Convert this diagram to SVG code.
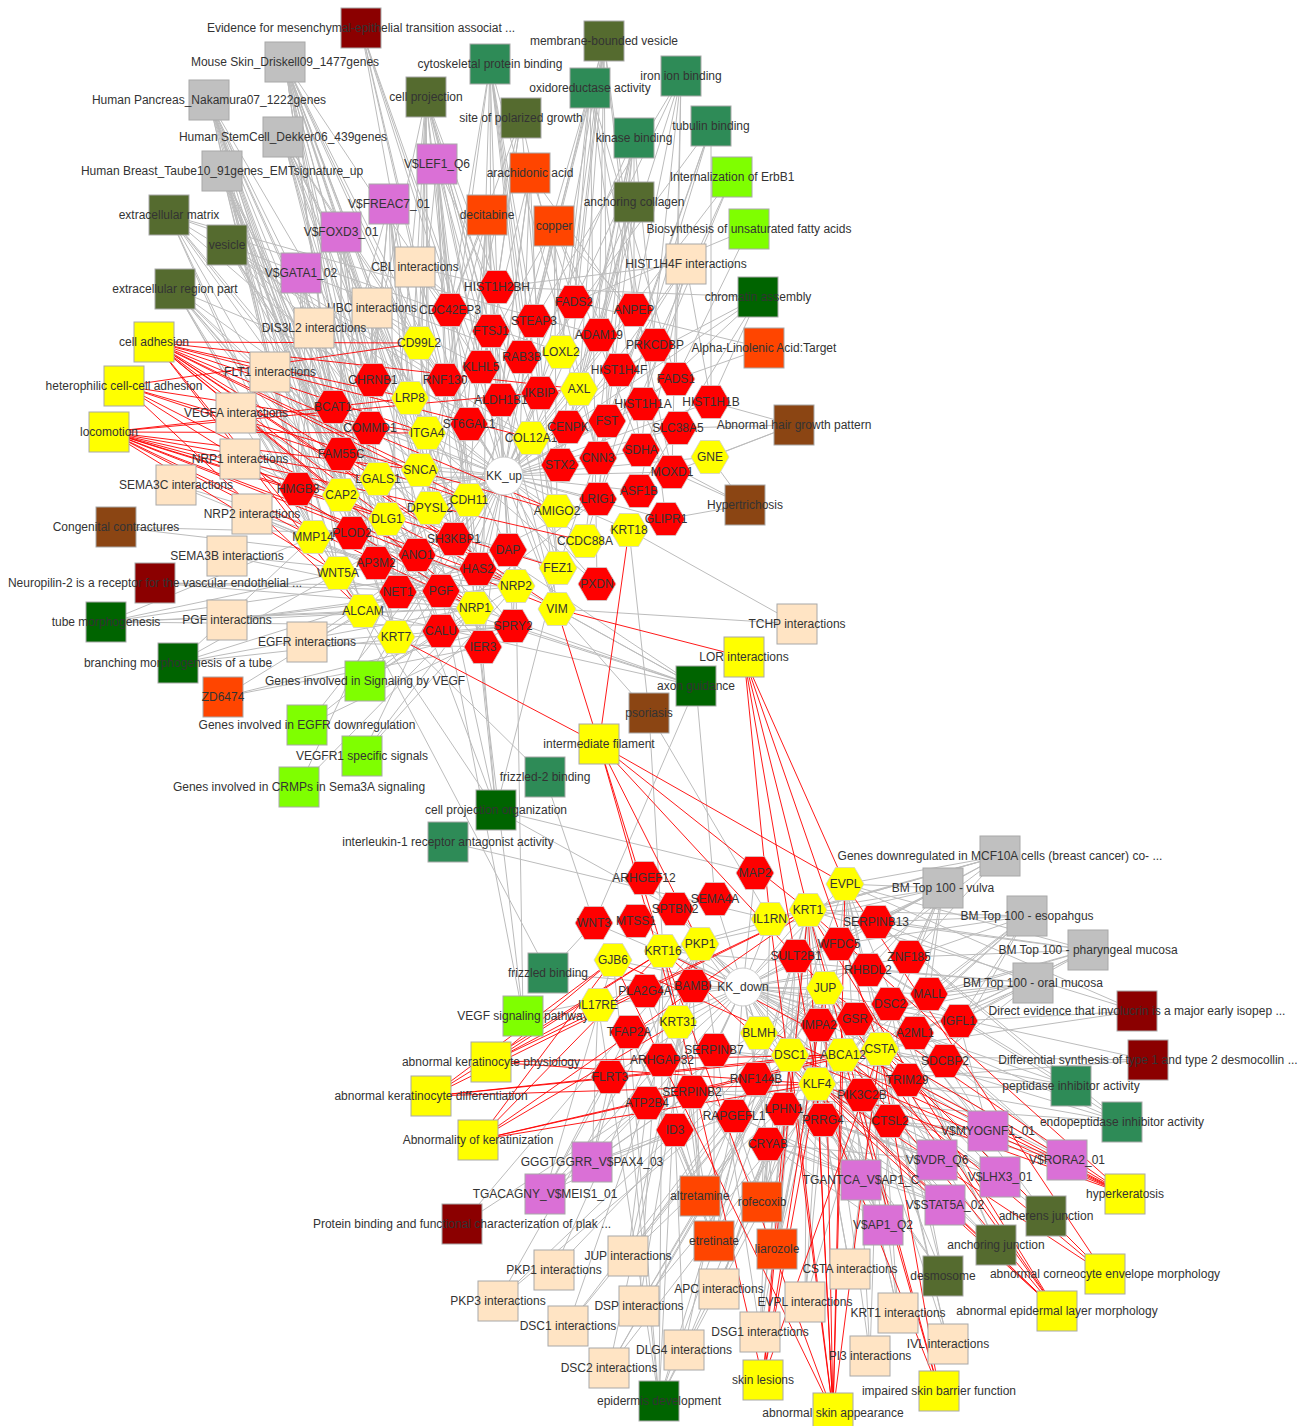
<svg xmlns="http://www.w3.org/2000/svg" xmlns:xlink="http://www.w3.org/1999/xlink" width="1312" height="1426" viewBox="0 0 1312 1426">
<style>
.g path{stroke:#bcbcbc;stroke-width:1;fill:none}
.r path{stroke:#ff0000;stroke-width:1;fill:none;stroke-opacity:0.9}
.s{stroke:#a8a8a8;stroke-width:1}
.h{stroke:#cfcfcf;stroke-width:0.8}
.drd{fill:#8b0000}.gry{fill:#c0c0c0}.olv{fill:#556b2f}.sea{fill:#2e8b57}.orc{fill:#da70d6}.org{fill:#ff4500}.chr{fill:#7fff00}.dgr{fill:#006400}.bis{fill:#ffe4c4}.yel{fill:#ffff00}.brn{fill:#8b4513}.red{fill:#ff0000}
text{font-family:"Liberation Sans",Arial,sans-serif;font-size:12px;fill:#333;text-anchor:middle}
</style>
<defs>
<rect id="sq" x="-20" y="-20" width="40" height="40"/>
<polygon id="hx" points="-19,0 -9.5,-16.5 9.5,-16.5 19,0 9.5,16.5 -9.5,16.5"/>
</defs>
<rect width="1312" height="1426" fill="#ffffff"/>
<g id="edges">
<g class="g">
<path d="M504 476L419 343M504 476L450 310M504 476L497 287M504 476L491 331M504 476L534 321M504 476L574 302M504 476L634 310M504 476L599 335M504 476L655 345M504 476L522 357M504 476L561 352M504 476L481 367M504 476L445 380M504 476L373 380M504 476L410 398M504 476L619 370M504 476L676 379M504 476L643 404M504 476L711 402M504 476L540 393M504 476L579 389M504 476L501 400M504 476L333 407M504 476L370 428M504 476L427 433M504 476L469 424M504 476L531 438M504 476L568 427M504 476L607 421M504 476L678 428M504 476L641 450M504 476L710 457M504 476L598 458M504 476L672 472M504 476L560 465M504 476L341 454M504 476L378 479M504 476L420 470M504 476L298 489M504 476L341 495M504 476L469 500M504 476L557 511M504 476L598 499M504 476L639 491M504 476L666 519M504 476L629 530M504 476L387 519M504 476L430 508M504 476L585 541M504 476L313 537M504 476L352 533M504 476L454 539M504 476L508 550M504 476L558 568M504 476L376 563M504 476L417 555M504 476L478 569M504 476L338 573M504 476L398 592M504 476L441 591M504 476L516 586M504 476L597 584M504 476L475 608M504 476L557 609M504 476L363 611M504 476L441 631M504 476L513 626M504 476L396 637M504 476L483 647"/>
<path d="M361 28L450 310M361 28L481 367M361 28L469 500M361 28L454 539M361 28L557 609M361 28L445 380"/>
<path d="M285 62L450 310M285 62L419 343M285 62L445 380M285 62L410 398M285 62L427 433M285 62L370 428M285 62L333 407M285 62L341 454M285 62L420 470M285 62L430 508M285 62L376 563M285 62L352 533M285 62L478 569M285 62L398 592M285 62L396 637M285 62L441 631M285 62L483 647M285 62L508 550M285 62L373 380"/>
<path d="M209 100L373 380M209 100L333 407M209 100L341 454M209 100L298 489M209 100L313 537M209 100L352 533M209 100L378 479M209 100L338 573M209 100L363 611M209 100L417 555M209 100L341 495M209 100L376 563M209 100L396 637M209 100L370 428"/>
<path d="M283 137L370 428M283 137L427 433M283 137L410 398M283 137L373 380M283 137L420 470M283 137L387 519M283 137L398 592M283 137L441 591M283 137L469 500M283 137L469 424M283 137L445 380"/>
<path d="M222 171L333 407M222 171L341 454M222 171L298 489M222 171L341 495M222 171L313 537M222 171L338 573M222 171L352 533M222 171L363 611M222 171L378 479M222 171L387 519M222 171L376 563M222 171L396 637"/>
<path d="M169 215L531 438M169 215L561 352M169 215L313 537M169 215L352 533M169 215L341 454M169 215L597 584M169 215L513 626M169 215L378 479M169 215L298 489M169 215L599 335"/>
<path d="M227 245L373 380M227 245L333 407M227 245L445 380M227 245L469 424M227 245L378 479M227 245L417 555M227 245L441 631M227 245L522 357M227 245L420 470"/>
<path d="M175 289L378 479M175 289L298 489M175 289L341 454M175 289L441 591M175 289L531 438M175 289L469 500M175 289L483 647M175 289L363 611M175 289L341 495M175 289L338 573"/>
<path d="M426 97L450 310M426 97L497 287M426 97L491 331M426 97L481 367M426 97L410 398M426 97L427 433M426 97L419 343M426 97L420 470M426 97L387 519M426 97L430 508M426 97L475 608M426 97L557 609M426 97L558 568M426 97L557 511M426 97L341 495"/>
<path d="M437 164L522 357M437 164L481 367M437 164L445 380M437 164L501 400M437 164L469 424M437 164L469 500M437 164L478 569M437 164L475 608M437 164L454 539M437 164L419 343"/>
<path d="M389 204L373 380M389 204L333 407M389 204L370 428M389 204L410 398M389 204L420 470M389 204L430 508M389 204L417 555M389 204L398 592M389 204L419 343"/>
<path d="M341 232L341 454M341 232L341 495M341 232L378 479M341 232L387 519M341 232L376 563M341 232L441 591M341 232L373 380"/>
<path d="M301 273L298 489M301 273L313 537M301 273L338 573M301 273L352 533M301 273L396 637M301 273L441 631M301 273L333 407"/>
<path d="M415 267L450 310M415 267L491 331M415 267L481 367M415 267L469 424M415 267L430 508M415 267L497 287"/>
<path d="M372 308L373 380M372 308L445 380M372 308L370 428M372 308L481 367M372 308L454 539M372 308L478 569M372 308L419 343"/>
<path d="M314 328L333 407M314 328L370 428M314 328L341 454M314 328L298 489M314 328L373 380"/>
<path d="M490 64L450 310M490 64L522 357M490 64L481 367M490 64L540 393M490 64L598 458M490 64L430 508M490 64L558 568M490 64L557 609M490 64L497 287M490 64L491 331M490 64L534 321"/>
<path d="M604 41L574 302M604 41L599 335M604 41L561 352M604 41L534 321M604 41L522 357M604 41L540 393M604 41L579 389M604 41L607 421M604 41L560 465M604 41L666 519M604 41L634 310"/>
<path d="M590 88L574 302M590 88L676 379M590 88L534 321M590 88L501 400M590 88L641 450M590 88L672 472M590 88L561 352M590 88L597 584"/>
<path d="M681 76L574 302M681 76L676 379M681 76L534 321M681 76L641 450M681 76L672 472M681 76L634 310M681 76L599 335"/>
<path d="M521 118L450 310M521 118L491 331M521 118L497 287M521 118L598 458M521 118L558 568M521 118L430 508"/>
<path d="M711 126L585 541M711 126L558 568M711 126L430 508M711 126L711 402M711 126L607 421"/>
<path d="M634 138L655 345M634 138L599 335M634 138L579 389M634 138L634 310M634 138L598 499M634 138L454 539M634 138L585 541M634 138L568 427"/>
<path d="M530 173L574 302M530 173L676 379M530 173L501 400M530 173L469 424M530 173L478 569M530 173L513 626M530 173L540 393"/>
<path d="M487 215L450 310M487 215L497 287M487 215L469 500M487 215L454 539M487 215L508 550M487 215L483 647M487 215L398 592M487 215L501 400"/>
<path d="M554 226L534 321M554 226L561 352M554 226L672 472M554 226L634 310M554 226L420 470M554 226L557 511M554 226L641 450"/>
<path d="M634 202L531 438M634 202L599 335M634 202L560 465M634 202L598 499M634 202L568 427"/>
<path d="M732 177L655 345M732 177L598 499M732 177L454 539"/>
<path d="M749 229L574 302M749 229L676 379"/>
<path d="M686 264L619 370M686 264L643 404M686 264L711 402M686 264L497 287M686 264L639 491M686 264L568 427"/>
<path d="M758 297L619 370M758 297L643 404M758 297L711 402M758 297L497 287M758 297L639 491M758 297L568 427"/>
<path d="M764 348L574 302M764 348L676 379"/>
<path d="M794 425L710 457M794 425L678 428M794 425L711 402M794 425L672 472"/>
<path d="M745 505L666 519M745 505L710 457M745 505L672 472M745 505L641 450"/>
<path d="M270 372L475 608M270 372L516 586M270 372L441 591M270 372L454 539"/>
<path d="M236 413L475 608M236 413L516 586M236 413L513 626M236 413L363 611M236 413L441 591"/>
<path d="M240 459L475 608M240 459L516 586M240 459L441 591M240 459L558 568"/>
<path d="M176 485L475 608M176 485L516 586"/>
<path d="M252 514L475 608M252 514L516 586M252 514L441 591"/>
<path d="M116 527L352 533M116 527L478 569"/>
<path d="M227 556L475 608M227 556L516 586"/>
<path d="M155 583L516 586M155 583L475 608M155 583L441 591"/>
<path d="M106 622L338 573M106 622L475 608M106 622L513 626M106 622L478 569M106 622L363 611M106 622L313 537"/>
<path d="M227 620L441 591M227 620L475 608M227 620L516 586"/>
<path d="M307 642L454 539M307 642L513 626M307 642L598 499M307 642L483 647"/>
<path d="M178 663L475 608M178 663L338 573M178 663L513 626M178 663L478 569M178 663L313 537"/>
<path d="M223 697L513 626M223 697L483 647M223 697L363 611"/>
<path d="M365 681L475 608M365 681L516 586M365 681L441 591M365 681L454 539"/>
<path d="M307 725L454 539M307 725L513 626M307 725L598 499"/>
<path d="M362 756L441 591M362 756L475 608M362 756L516 586"/>
<path d="M299 787L430 508M299 787L475 608"/>
<path d="M696 686L475 608M696 686L516 586M696 686L430 508M696 686L363 611M696 686L557 609M696 686L594 923M696 686L715 899M696 686L398 592M696 686L513 626"/>
<path d="M649 713L557 609M649 713L663 951M649 713L770 919M649 713L629 530"/>
<path d="M797 624L629 530M797 624L557 609"/>
<path d="M545 777L338 573M545 777L594 923"/>
<path d="M496 810L475 608M496 810L430 508M496 810L558 568M496 810L469 500M496 810L675 909M496 810L755 873M496 810L363 611M496 810L387 519"/>
<path d="M448 842L770 919"/>
<path d="M548 973L594 923M548 973L338 573M548 973L693 986"/>
<path d="M523 1016L645 991M523 1016L475 608M523 1016L516 586M523 1016L441 591"/>
<path d="M743 987L755 873M743 987L644 878M743 987L715 899M743 987L675 909M743 987L845 884M743 987L808 910M743 987L770 919M743 987L876 922M743 987L594 923M743 987L636 921M743 987L700 944M743 987L663 951M743 987L613 960M743 987L796 956M743 987L839 944M743 987L909 957M743 987L868 970M743 987L929 994M743 987L693 986M743 987L645 991M743 987L598 1005M743 987L825 988M743 987L890 1004M743 987L959 1021M743 987L678 1022M743 987L629 1032M743 987L759 1033M743 987L819 1025M743 987L855 1019M743 987L915 1033M743 987L880 1049M743 987L714 1050M743 987L662 1060M743 987L790 1055M743 987L843 1055M743 987L945 1061M743 987L610 1077M743 987L756 1079M743 987L817 1084M743 987L862 1095M743 987L907 1080M743 987L692 1092M743 987L647 1103M743 987L734 1116M743 987L784 1109M743 987L823 1120M743 987L890 1121M743 987L675 1130M743 987L768 1144"/>
<path d="M1000 856L808 910M1000 856L845 884M1000 856L876 922M1000 856L909 957M1000 856L839 944M1000 856L825 988M1000 856L770 919M1000 856L663 951"/>
<path d="M943 888L808 910M943 888L845 884M943 888L876 922M943 888L909 957M943 888L868 970M943 888L929 994M943 888L890 1004M943 888L915 1033M943 888L880 1049M943 888L663 951M943 888L796 956"/>
<path d="M1027 916L929 994M1027 916L959 1021M1027 916L909 957M1027 916L876 922M1027 916L880 1049M1027 916L843 1055M1027 916L945 1061M1027 916L768 1144M1027 916L808 910M1027 916L839 944"/>
<path d="M1088 950L909 957M1088 950L929 994M1088 950L876 922M1088 950L959 1021M1088 950L880 1049M1088 950L915 1033M1088 950L808 910M1088 950L845 884M1088 950L855 1019"/>
<path d="M1033 983L929 994M1033 983L959 1021M1033 983L915 1033M1033 983L868 970M1033 983L890 1004M1033 983L855 1019M1033 983L907 1080M1033 983L876 922M1033 983L663 951"/>
<path d="M1137 1011L845 884M1137 1011L880 1049M1137 1011L808 910M1137 1011L959 1021"/>
<path d="M1148 1060L790 1055M1148 1060L890 1004M1148 1060L817 1084"/>
<path d="M1071 1086L876 922M1071 1086L714 1050M1071 1086L692 1092M1071 1086L880 1049M1071 1086L915 1033M1071 1086L839 944"/>
<path d="M1122 1122L876 922M1122 1122L714 1050M1122 1122L692 1092M1122 1122L880 1049M1122 1122L915 1033M1122 1122L839 944"/>
<path d="M988 1131L808 910M988 1131L825 988M988 1131L907 1080M988 1131L945 1061M988 1131L959 1021M988 1131L890 1121M988 1131L823 1120"/>
<path d="M1067 1160L880 1049M1067 1160L907 1080M1067 1160L862 1095M1067 1160L890 1121M1067 1160L915 1033M1067 1160L890 1004"/>
<path d="M937 1160L817 1084M937 1160L823 1120M937 1160L890 1121M937 1160L862 1095M937 1160L907 1080M937 1160L768 1144M937 1160L784 1109"/>
<path d="M1000 1177L862 1095M1000 1177L907 1080M1000 1177L890 1121M1000 1177L784 1109M1000 1177L817 1084"/>
<path d="M945 1205L768 1144M945 1205L823 1120M945 1205L817 1084M945 1205L784 1109M945 1205L890 1121M945 1205L734 1116"/>
<path d="M861 1180L817 1084M861 1180L823 1120M861 1180L768 1144M861 1180L784 1109M861 1180L756 1079M861 1180L692 1092M861 1180L790 1055M861 1180L819 1025"/>
<path d="M883 1225L768 1144M883 1225L784 1109M883 1225L823 1120M883 1225L817 1084M883 1225L890 1121M883 1225L862 1095"/>
<path d="M592 1162L675 1130M592 1162L647 1103M592 1162L610 1077M592 1162L629 1032M592 1162L692 1092M592 1162L734 1116M592 1162L598 1005"/>
<path d="M545 1194L675 1130M545 1194L647 1103M545 1194L610 1077M545 1194L662 1060M545 1194L629 1032M545 1194L613 960M545 1194L692 1092"/>
<path d="M462 1224L700 944M462 1224L825 988"/>
<path d="M700 1196L675 1130M700 1196L692 1092M700 1196L734 1116M700 1196L693 986M700 1196L645 991M700 1196L678 1022M700 1196L629 1032"/>
<path d="M762 1202L768 1144M762 1202L734 1116M762 1202L784 1109M762 1202L645 991M762 1202L770 919M762 1202L796 956M762 1202L819 1025"/>
<path d="M714 1241L663 951M714 1241L808 910M714 1241L629 1032M714 1241L675 1130M714 1241L714 1050M714 1241L759 1033"/>
<path d="M777 1249L808 910M777 1249L817 1084M777 1249L768 1144M777 1249L819 1025M777 1249L825 988M777 1249L796 956"/>
<path d="M628 1256L825 988M628 1256L700 944M628 1256L790 1055M628 1256L890 1004M628 1256L647 1103"/>
<path d="M554 1270L700 944M554 1270L825 988"/>
<path d="M498 1301L825 988M498 1301L790 1055M498 1301L700 944"/>
<path d="M719 1289L825 988M719 1289L784 1109M719 1289L768 1144"/>
<path d="M850 1269L880 1049M850 1269L823 1120M850 1269L817 1084"/>
<path d="M805 1302L845 884M805 1302L808 910M805 1302L825 988M805 1302L880 1049"/>
<path d="M639 1306L825 988M639 1306L700 944M639 1306L790 1055M639 1306L890 1004M639 1306L663 951"/>
<path d="M568 1326L790 1055M568 1326L825 988M568 1326L700 944"/>
<path d="M760 1332L790 1055M760 1332L825 988M760 1332L700 944M760 1332L808 910M760 1332L768 1144"/>
<path d="M898 1313L808 910M898 1313L845 884M898 1313L880 1049M898 1313L825 988"/>
<path d="M684 1350L784 1109M684 1350L734 1116M684 1350L675 1130"/>
<path d="M870 1356L808 910M870 1356L880 1049M870 1356L845 884"/>
<path d="M948 1344L845 884M948 1344L880 1049M948 1344L808 910"/>
<path d="M609 1368L890 1004M609 1368L825 988M609 1368L790 1055M609 1368L700 944"/>
<path d="M1046 1216L825 988M1046 1216L890 1004M1046 1216L700 944"/>
<path d="M996 1245L825 988M996 1245L790 1055M996 1245L890 1004M996 1245L700 944M996 1245L845 884"/>
<path d="M943 1276L825 988M943 1276L790 1055M943 1276L890 1004M943 1276L700 944M943 1276L845 884"/>
<path d="M659 1401L663 951M659 1401L808 910M659 1401L845 884M659 1401L817 1084M659 1401L613 960M659 1401L843 1055M659 1401L629 1032M659 1401L598 1005M659 1401L678 1022"/>
</g>
<g class="r">
<path d="M154 342L419 343M154 342L410 398M154 342L427 433M154 342L469 500M154 342L557 511M154 342L341 495M154 342L387 519M154 342L378 479M154 342L475 608M154 342L363 611M154 342L531 438M154 342L557 609M154 342L313 537M154 342L420 470M154 342L579 389M154 342L516 586"/>
<path d="M124 386L419 343M124 386L557 511M124 386L469 500M124 386L363 611M124 386L475 608M124 386L516 586M124 386L427 433"/>
<path d="M109 432L410 398M109 432L427 433M109 432L420 470M109 432L341 495M109 432L313 537M109 432L338 573M109 432L475 608M109 432L516 586M109 432L558 568M109 432L387 519M109 432L579 389M109 432L378 479M109 432L585 541M109 432L557 609"/>
<path d="M599 744L629 530M599 744L557 609M599 744L396 637M599 744L663 951M599 744L678 1022M599 744L808 910M599 744L700 944M599 744L845 884M599 744L825 988"/>
<path d="M744 657L557 609M744 657L808 910M744 657L845 884M744 657L880 1049M744 657L817 1084M744 657L770 919"/>
<path d="M491 1062L663 951M491 1062L613 960M491 1062L808 910M491 1062L817 1084M491 1062L843 1055M491 1062L598 1005"/>
<path d="M431 1096L808 910M431 1096L817 1084M431 1096L663 951M431 1096L843 1055M431 1096L880 1049M431 1096L613 960"/>
<path d="M478 1140L663 951M478 1140L808 910M478 1140L613 960M478 1140L843 1055M478 1140L817 1084M478 1140L880 1049M478 1140L678 1022"/>
<path d="M763 1380L808 910M763 1380L817 1084M763 1380L790 1055M763 1380L825 988M763 1380L663 951M763 1380L880 1049"/>
<path d="M833 1413L808 910M833 1413L817 1084M833 1413L845 884M833 1413L880 1049M833 1413L843 1055M833 1413L825 988M833 1413L790 1055M833 1413L663 951M833 1413L613 960M833 1413L770 919"/>
<path d="M939 1391L817 1084M939 1391L843 1055M939 1391L880 1049M939 1391L808 910"/>
<path d="M1057 1311L808 910M1057 1311L817 1084M1057 1311L843 1055M1057 1311L825 988M1057 1311L880 1049M1057 1311L790 1055M1057 1311L663 951"/>
<path d="M1105 1274L880 1049M1105 1274L845 884M1105 1274L817 1084M1105 1274L843 1055"/>
<path d="M1125 1194L808 910M1125 1194L663 951M1125 1194L613 960M1125 1194L843 1055M1125 1194L880 1049M1125 1194L825 988M1125 1194L790 1055M1125 1194L817 1084"/>
</g>
</g>
<g id="nodes">
<g id="evidence-met"><use href="#sq" x="361" y="28" class="s drd"/><text x="361" y="32">Evidence for mesenchymal-epithelial transition associat ...</text></g>
<g id="mouse-skin"><use href="#sq" x="285" y="62" class="s gry"/><text x="285" y="66">Mouse Skin_Driskell09_1477genes</text></g>
<g id="human-pancreas"><use href="#sq" x="209" y="100" class="s gry"/><text x="209" y="104">Human Pancreas_Nakamura07_1222genes</text></g>
<g id="human-stemcell"><use href="#sq" x="283" y="137" class="s gry"/><text x="283" y="141">Human StemCell_Dekker06_439genes</text></g>
<g id="human-breast"><use href="#sq" x="222" y="171" class="s gry"/><text x="222" y="175">Human Breast_Taube10_91genes_EMTsignature_up</text></g>
<g id="ecm"><use href="#sq" x="169" y="215" class="s olv"/><text x="169" y="219">extracellular matrix</text></g>
<g id="vesicle"><use href="#sq" x="227" y="245" class="s olv"/><text x="227" y="249">vesicle</text></g>
<g id="erp"><use href="#sq" x="175" y="289" class="s olv"/><text x="175" y="293">extracellular region part</text></g>
<g id="cell-projection"><use href="#sq" x="426" y="97" class="s olv"/><text x="426" y="101">cell projection</text></g>
<g id="mbv"><use href="#sq" x="604" y="41" class="s olv"/><text x="604" y="45">membrane-bounded vesicle</text></g>
<g id="cpb"><use href="#sq" x="490" y="64" class="s sea"/><text x="490" y="68">cytoskeletal protein binding</text></g>
<g id="oxido"><use href="#sq" x="590" y="88" class="s sea"/><text x="590" y="92">oxidoreductase activity</text></g>
<g id="iron"><use href="#sq" x="681" y="76" class="s sea"/><text x="681" y="80">iron ion binding</text></g>
<g id="spg"><use href="#sq" x="521" y="118" class="s olv"/><text x="521" y="122">site of polarized growth</text></g>
<g id="tubulin"><use href="#sq" x="711" y="126" class="s sea"/><text x="711" y="130">tubulin binding</text></g>
<g id="kinase"><use href="#sq" x="634" y="138" class="s sea"/><text x="634" y="142">kinase binding</text></g>
<g id="lef1"><use href="#sq" x="437" y="164" class="s orc"/><text x="437" y="168">V$LEF1_Q6</text></g>
<g id="arach"><use href="#sq" x="530" y="173" class="s org"/><text x="530" y="177">arachidonic acid</text></g>
<g id="erbb1"><use href="#sq" x="732" y="177" class="s chr"/><text x="732" y="181">Internalization of ErbB1</text></g>
<g id="freac7"><use href="#sq" x="389" y="204" class="s orc"/><text x="389" y="208">V$FREAC7_01</text></g>
<g id="anch-coll"><use href="#sq" x="634" y="202" class="s olv"/><text x="634" y="206">anchoring collagen</text></g>
<g id="decitabine"><use href="#sq" x="487" y="215" class="s org"/><text x="487" y="219">decitabine</text></g>
<g id="copper"><use href="#sq" x="554" y="226" class="s org"/><text x="554" y="230">copper</text></g>
<g id="biosyn"><use href="#sq" x="749" y="229" class="s chr"/><text x="749" y="233">Biosynthesis of unsaturated fatty acids</text></g>
<g id="foxd3"><use href="#sq" x="341" y="232" class="s orc"/><text x="341" y="236">V$FOXD3_01</text></g>
<g id="hist1h4f-int"><use href="#sq" x="686" y="264" class="s bis"/><text x="686" y="268">HIST1H4F interactions</text></g>
<g id="cbl"><use href="#sq" x="415" y="267" class="s bis"/><text x="415" y="271">CBL interactions</text></g>
<g id="gata1"><use href="#sq" x="301" y="273" class="s orc"/><text x="301" y="277">V$GATA1_02</text></g>
<g id="chromatin"><use href="#sq" x="758" y="297" class="s dgr"/><text x="758" y="301">chromatin assembly</text></g>
<g id="ubc"><use href="#sq" x="372" y="308" class="s bis"/><text x="372" y="312">UBC interactions</text></g>
<g id="dis3l2"><use href="#sq" x="314" y="328" class="s bis"/><text x="314" y="332">DIS3L2 interactions</text></g>
<g id="cell-adhesion"><use href="#sq" x="154" y="342" class="s yel"/><text x="154" y="346">cell adhesion</text></g>
<g id="alpha-lin"><use href="#sq" x="764" y="348" class="s org"/><text x="764" y="352">Alpha-Linolenic Acid:Target</text></g>
<g id="flt1"><use href="#sq" x="270" y="372" class="s bis"/><text x="270" y="376">FLT1 interactions</text></g>
<g id="heterophilic"><use href="#sq" x="124" y="386" class="s yel"/><text x="124" y="390">heterophilic cell-cell adhesion</text></g>
<g id="vegfa"><use href="#sq" x="236" y="413" class="s bis"/><text x="236" y="417">VEGFA interactions</text></g>
<g id="hair"><use href="#sq" x="794" y="425" class="s brn"/><text x="794" y="429">Abnormal hair growth pattern</text></g>
<g id="locomotion"><use href="#sq" x="109" y="432" class="s yel"/><text x="109" y="436">locomotion</text></g>
<g id="nrp1-int"><use href="#sq" x="240" y="459" class="s bis"/><text x="240" y="463">NRP1 interactions</text></g>
<g id="sema3c"><use href="#sq" x="176" y="485" class="s bis"/><text x="176" y="489">SEMA3C interactions</text></g>
<g id="hypertrichosis"><use href="#sq" x="745" y="505" class="s brn"/><text x="745" y="509">Hypertrichosis</text></g>
<g id="nrp2-int"><use href="#sq" x="252" y="514" class="s bis"/><text x="252" y="518">NRP2 interactions</text></g>
<g id="congenital"><use href="#sq" x="116" y="527" class="s brn"/><text x="116" y="531">Congenital contractures</text></g>
<g id="sema3b"><use href="#sq" x="227" y="556" class="s bis"/><text x="227" y="560">SEMA3B interactions</text></g>
<g id="neuropilin2"><use href="#sq" x="155" y="583" class="s drd"/><text x="155" y="587">Neuropilin-2 is a receptor for the vascular endothelial ...</text></g>
<g id="tube-morph"><use href="#sq" x="106" y="622" class="s dgr"/><text x="106" y="626">tube morphogenesis</text></g>
<g id="pgf-int"><use href="#sq" x="227" y="620" class="s bis"/><text x="227" y="624">PGF interactions</text></g>
<g id="tchp"><use href="#sq" x="797" y="624" class="s bis"/><text x="797" y="628">TCHP interactions</text></g>
<g id="egfr-int"><use href="#sq" x="307" y="642" class="s bis"/><text x="307" y="646">EGFR interactions</text></g>
<g id="lor"><use href="#sq" x="744" y="657" class="s yel"/><text x="744" y="661">LOR interactions</text></g>
<g id="branching"><use href="#sq" x="178" y="663" class="s dgr"/><text x="178" y="667">branching morphogenesis of a tube</text></g>
<g id="vegf-sig"><use href="#sq" x="365" y="681" class="s chr"/><text x="365" y="685">Genes involved in Signaling by VEGF</text></g>
<g id="axon"><use href="#sq" x="696" y="686" class="s dgr"/><text x="696" y="690">axon guidance</text></g>
<g id="zd6474"><use href="#sq" x="223" y="697" class="s org"/><text x="223" y="701">ZD6474</text></g>
<g id="psoriasis"><use href="#sq" x="649" y="713" class="s brn"/><text x="649" y="717">psoriasis</text></g>
<g id="egfr-down"><use href="#sq" x="307" y="725" class="s chr"/><text x="307" y="729">Genes involved in EGFR downregulation</text></g>
<g id="int-fil"><use href="#sq" x="599" y="744" class="s yel"/><text x="599" y="748">intermediate filament</text></g>
<g id="vegfr1"><use href="#sq" x="362" y="756" class="s chr"/><text x="362" y="760">VEGFR1 specific signals</text></g>
<g id="fz2"><use href="#sq" x="545" y="777" class="s sea"/><text x="545" y="781">frizzled-2 binding</text></g>
<g id="crmps"><use href="#sq" x="299" y="787" class="s chr"/><text x="299" y="791">Genes involved in CRMPs in Sema3A signaling</text></g>
<g id="cpo"><use href="#sq" x="496" y="810" class="s dgr"/><text x="496" y="814">cell projection organization</text></g>
<g id="il1ra"><use href="#sq" x="448" y="842" class="s sea"/><text x="448" y="846">interleukin-1 receptor antagonist activity</text></g>
<g id="mcf10a"><use href="#sq" x="1000" y="856" class="s gry"/><text x="1000" y="860">Genes downregulated in MCF10A cells (breast cancer) co- ...</text></g>
<g id="bm-vulva"><use href="#sq" x="943" y="888" class="s gry"/><text x="943" y="892">BM Top 100 - vulva</text></g>
<g id="bm-eso"><use href="#sq" x="1027" y="916" class="s gry"/><text x="1027" y="920">BM Top 100 - esopahgus</text></g>
<g id="bm-phar"><use href="#sq" x="1088" y="950" class="s gry"/><text x="1088" y="954">BM Top 100 - pharyngeal mucosa</text></g>
<g id="fz"><use href="#sq" x="548" y="973" class="s sea"/><text x="548" y="977">frizzled binding</text></g>
<g id="bm-oral"><use href="#sq" x="1033" y="983" class="s gry"/><text x="1033" y="987">BM Top 100 - oral mucosa</text></g>
<g id="involucrin"><use href="#sq" x="1137" y="1011" class="s drd"/><text x="1137" y="1015">Direct evidence that involucrin is a major early isopep ...</text></g>
<g id="vegf-path"><use href="#sq" x="523" y="1016" class="s chr"/><text x="523" y="1020">VEGF signaling pathway</text></g>
<g id="desmocollin"><use href="#sq" x="1148" y="1060" class="s drd"/><text x="1148" y="1064">Differential synthesis of type 1 and type 2 desmocollin ...</text></g>
<g id="akp"><use href="#sq" x="491" y="1062" class="s yel"/><text x="491" y="1066">abnormal keratinocyte physiology</text></g>
<g id="peptidase"><use href="#sq" x="1071" y="1086" class="s sea"/><text x="1071" y="1090">peptidase inhibitor activity</text></g>
<g id="akd"><use href="#sq" x="431" y="1096" class="s yel"/><text x="431" y="1100">abnormal keratinocyte differentiation</text></g>
<g id="endopeptidase"><use href="#sq" x="1122" y="1122" class="s sea"/><text x="1122" y="1126">endopeptidase inhibitor activity</text></g>
<g id="myognf1"><use href="#sq" x="988" y="1131" class="s orc"/><text x="988" y="1135">V$MYOGNF1_01</text></g>
<g id="abkerat"><use href="#sq" x="478" y="1140" class="s yel"/><text x="478" y="1144">Abnormality of keratinization</text></g>
<g id="vdr"><use href="#sq" x="937" y="1160" class="s orc"/><text x="937" y="1164">V$VDR_Q6</text></g>
<g id="rora2"><use href="#sq" x="1067" y="1160" class="s orc"/><text x="1067" y="1164">V$RORA2_01</text></g>
<g id="pax4"><use href="#sq" x="592" y="1162" class="s orc"/><text x="592" y="1166">GGGTGGRR_V$PAX4_03</text></g>
<g id="lhx3"><use href="#sq" x="1000" y="1177" class="s orc"/><text x="1000" y="1181">V$LHX3_01</text></g>
<g id="ap1c"><use href="#sq" x="861" y="1180" class="s orc"/><text x="861" y="1184">TGANTCA_V$AP1_C</text></g>
<g id="hyperker"><use href="#sq" x="1125" y="1194" class="s yel"/><text x="1125" y="1198">hyperkeratosis</text></g>
<g id="meis1"><use href="#sq" x="545" y="1194" class="s orc"/><text x="545" y="1198">TGACAGNY_V$MEIS1_01</text></g>
<g id="altretamine"><use href="#sq" x="700" y="1196" class="s org"/><text x="700" y="1200">altretamine</text></g>
<g id="rofecoxib"><use href="#sq" x="762" y="1202" class="s org"/><text x="762" y="1206">rofecoxib</text></g>
<g id="stat5a"><use href="#sq" x="945" y="1205" class="s orc"/><text x="945" y="1209">V$STAT5A_02</text></g>
<g id="adherens"><use href="#sq" x="1046" y="1216" class="s olv"/><text x="1046" y="1220">adherens junction</text></g>
<g id="plak"><use href="#sq" x="462" y="1224" class="s drd"/><text x="462" y="1228">Protein binding and functional characterization of plak ...</text></g>
<g id="ap1q2"><use href="#sq" x="883" y="1225" class="s orc"/><text x="883" y="1229">V$AP1_Q2</text></g>
<g id="etretinate"><use href="#sq" x="714" y="1241" class="s org"/><text x="714" y="1245">etretinate</text></g>
<g id="anch-junc"><use href="#sq" x="996" y="1245" class="s olv"/><text x="996" y="1249">anchoring junction</text></g>
<g id="liarozole"><use href="#sq" x="777" y="1249" class="s org"/><text x="777" y="1253">liarozole</text></g>
<g id="jup-int"><use href="#sq" x="628" y="1256" class="s bis"/><text x="628" y="1260">JUP interactions</text></g>
<g id="csta-int"><use href="#sq" x="850" y="1269" class="s bis"/><text x="850" y="1273">CSTA interactions</text></g>
<g id="pkp1-int"><use href="#sq" x="554" y="1270" class="s bis"/><text x="554" y="1274">PKP1 interactions</text></g>
<g id="corneocyte"><use href="#sq" x="1105" y="1274" class="s yel"/><text x="1105" y="1278">abnormal corneocyte envelope morphology</text></g>
<g id="desmosome"><use href="#sq" x="943" y="1276" class="s olv"/><text x="943" y="1280">desmosome</text></g>
<g id="apc-int"><use href="#sq" x="719" y="1289" class="s bis"/><text x="719" y="1293">APC interactions</text></g>
<g id="pkp3-int"><use href="#sq" x="498" y="1301" class="s bis"/><text x="498" y="1305">PKP3 interactions</text></g>
<g id="evpl-int"><use href="#sq" x="805" y="1302" class="s bis"/><text x="805" y="1306">EVPL interactions</text></g>
<g id="dsp-int"><use href="#sq" x="639" y="1306" class="s bis"/><text x="639" y="1310">DSP interactions</text></g>
<g id="epid-layer"><use href="#sq" x="1057" y="1311" class="s yel"/><text x="1057" y="1315">abnormal epidermal layer morphology</text></g>
<g id="krt1-int"><use href="#sq" x="898" y="1313" class="s bis"/><text x="898" y="1317">KRT1 interactions</text></g>
<g id="dsc1-int"><use href="#sq" x="568" y="1326" class="s bis"/><text x="568" y="1330">DSC1 interactions</text></g>
<g id="dsg1-int"><use href="#sq" x="760" y="1332" class="s bis"/><text x="760" y="1336">DSG1 interactions</text></g>
<g id="ivl-int"><use href="#sq" x="948" y="1344" class="s bis"/><text x="948" y="1348">IVL interactions</text></g>
<g id="dlg4-int"><use href="#sq" x="684" y="1350" class="s bis"/><text x="684" y="1354">DLG4 interactions</text></g>
<g id="pi3-int"><use href="#sq" x="870" y="1356" class="s bis"/><text x="870" y="1360">PI3 interactions</text></g>
<g id="dsc2-int"><use href="#sq" x="609" y="1368" class="s bis"/><text x="609" y="1372">DSC2 interactions</text></g>
<g id="skin-lesions"><use href="#sq" x="763" y="1380" class="s yel"/><text x="763" y="1384">skin lesions</text></g>
<g id="skin-barrier"><use href="#sq" x="939" y="1391" class="s yel"/><text x="939" y="1395">impaired skin barrier function</text></g>
<g id="epid-dev"><use href="#sq" x="659" y="1401" class="s dgr"/><text x="659" y="1405">epidermis development</text></g>
<g id="skin-appear"><use href="#sq" x="833" y="1413" class="s yel"/><text x="833" y="1417">abnormal skin appearance</text></g>

<g id="kk-up"><circle cx="504" cy="476" r="19" fill="#fff" stroke="#cccccc"/><text x="504" y="480">KK_up</text></g>
<g id="g-CD99L2"><use href="#hx" x="419" y="343" class="h yel"/><text x="419" y="347">CD99L2</text></g>
<g id="g-CDC42EP3"><use href="#hx" x="450" y="310" class="h red"/><text x="450" y="314">CDC42EP3</text></g>
<g id="g-HIST1H2BH"><use href="#hx" x="497" y="287" class="h red"/><text x="497" y="291">HIST1H2BH</text></g>
<g id="g-FTSJ1"><use href="#hx" x="491" y="331" class="h red"/><text x="491" y="335">FTSJ1</text></g>
<g id="g-STEAP3"><use href="#hx" x="534" y="321" class="h red"/><text x="534" y="325">STEAP3</text></g>
<g id="g-FADS2"><use href="#hx" x="574" y="302" class="h red"/><text x="574" y="306">FADS2</text></g>
<g id="g-ANPEP"><use href="#hx" x="634" y="310" class="h red"/><text x="634" y="314">ANPEP</text></g>
<g id="g-ADAM19"><use href="#hx" x="599" y="335" class="h red"/><text x="599" y="339">ADAM19</text></g>
<g id="g-PRKCDBP"><use href="#hx" x="655" y="345" class="h red"/><text x="655" y="349">PRKCDBP</text></g>
<g id="g-RAB3B"><use href="#hx" x="522" y="357" class="h red"/><text x="522" y="361">RAB3B</text></g>
<g id="g-LOXL2"><use href="#hx" x="561" y="352" class="h yel"/><text x="561" y="356">LOXL2</text></g>
<g id="g-KLHL5"><use href="#hx" x="481" y="367" class="h red"/><text x="481" y="371">KLHL5</text></g>
<g id="g-RNF130"><use href="#hx" x="445" y="380" class="h red"/><text x="445" y="384">RNF130</text></g>
<g id="g-CHRNB1"><use href="#hx" x="373" y="380" class="h red"/><text x="373" y="384">CHRNB1</text></g>
<g id="g-LRP8"><use href="#hx" x="410" y="398" class="h yel"/><text x="410" y="402">LRP8</text></g>
<g id="g-HIST1H4F"><use href="#hx" x="619" y="370" class="h red"/><text x="619" y="374">HIST1H4F</text></g>
<g id="g-FADS1"><use href="#hx" x="676" y="379" class="h red"/><text x="676" y="383">FADS1</text></g>
<g id="g-HIST1H1A"><use href="#hx" x="643" y="404" class="h red"/><text x="643" y="408">HIST1H1A</text></g>
<g id="g-HIST1H1B"><use href="#hx" x="711" y="402" class="h red"/><text x="711" y="406">HIST1H1B</text></g>
<g id="g-IKBIP"><use href="#hx" x="540" y="393" class="h red"/><text x="540" y="397">IKBIP</text></g>
<g id="g-AXL"><use href="#hx" x="579" y="389" class="h yel"/><text x="579" y="393">AXL</text></g>
<g id="g-ALDH1B1"><use href="#hx" x="501" y="400" class="h red"/><text x="501" y="404">ALDH1B1</text></g>
<g id="g-BCAT1"><use href="#hx" x="333" y="407" class="h red"/><text x="333" y="411">BCAT1</text></g>
<g id="g-COMMD1"><use href="#hx" x="370" y="428" class="h red"/><text x="370" y="432">COMMD1</text></g>
<g id="g-ITGA4"><use href="#hx" x="427" y="433" class="h yel"/><text x="427" y="437">ITGA4</text></g>
<g id="g-ST6GAL1"><use href="#hx" x="469" y="424" class="h red"/><text x="469" y="428">ST6GAL1</text></g>
<g id="g-COL12A1"><use href="#hx" x="531" y="438" class="h yel"/><text x="531" y="442">COL12A1</text></g>
<g id="g-CENPK"><use href="#hx" x="568" y="427" class="h red"/><text x="568" y="431">CENPK</text></g>
<g id="g-FST"><use href="#hx" x="607" y="421" class="h red"/><text x="607" y="425">FST</text></g>
<g id="g-SLC38A5"><use href="#hx" x="678" y="428" class="h red"/><text x="678" y="432">SLC38A5</text></g>
<g id="g-SDHA"><use href="#hx" x="641" y="450" class="h red"/><text x="641" y="454">SDHA</text></g>
<g id="g-GNE"><use href="#hx" x="710" y="457" class="h yel"/><text x="710" y="461">GNE</text></g>
<g id="g-CNN3"><use href="#hx" x="598" y="458" class="h red"/><text x="598" y="462">CNN3</text></g>
<g id="g-MOXD1"><use href="#hx" x="672" y="472" class="h red"/><text x="672" y="476">MOXD1</text></g>
<g id="g-STX2"><use href="#hx" x="560" y="465" class="h red"/><text x="560" y="469">STX2</text></g>
<g id="g-FAM55C"><use href="#hx" x="341" y="454" class="h red"/><text x="341" y="458">FAM55C</text></g>
<g id="g-LGALS1"><use href="#hx" x="378" y="479" class="h yel"/><text x="378" y="483">LGALS1</text></g>
<g id="g-SNCA"><use href="#hx" x="420" y="470" class="h yel"/><text x="420" y="474">SNCA</text></g>
<g id="g-HMGB3"><use href="#hx" x="298" y="489" class="h red"/><text x="298" y="493">HMGB3</text></g>
<g id="g-CAP2"><use href="#hx" x="341" y="495" class="h yel"/><text x="341" y="499">CAP2</text></g>
<g id="g-CDH11"><use href="#hx" x="469" y="500" class="h yel"/><text x="469" y="504">CDH11</text></g>
<g id="g-AMIGO2"><use href="#hx" x="557" y="511" class="h yel"/><text x="557" y="515">AMIGO2</text></g>
<g id="g-LRIG1"><use href="#hx" x="598" y="499" class="h red"/><text x="598" y="503">LRIG1</text></g>
<g id="g-ASF1B"><use href="#hx" x="639" y="491" class="h red"/><text x="639" y="495">ASF1B</text></g>
<g id="g-GLIPR1"><use href="#hx" x="666" y="519" class="h red"/><text x="666" y="523">GLIPR1</text></g>
<g id="g-KRT18"><use href="#hx" x="629" y="530" class="h yel"/><text x="629" y="534">KRT18</text></g>
<g id="g-DLG1"><use href="#hx" x="387" y="519" class="h yel"/><text x="387" y="523">DLG1</text></g>
<g id="g-DPYSL2"><use href="#hx" x="430" y="508" class="h yel"/><text x="430" y="512">DPYSL2</text></g>
<g id="g-CCDC88A"><use href="#hx" x="585" y="541" class="h yel"/><text x="585" y="545">CCDC88A</text></g>
<g id="g-MMP14"><use href="#hx" x="313" y="537" class="h yel"/><text x="313" y="541">MMP14</text></g>
<g id="g-PLOD2"><use href="#hx" x="352" y="533" class="h red"/><text x="352" y="537">PLOD2</text></g>
<g id="g-SH3KBP1"><use href="#hx" x="454" y="539" class="h red"/><text x="454" y="543">SH3KBP1</text></g>
<g id="g-DAP"><use href="#hx" x="508" y="550" class="h red"/><text x="508" y="554">DAP</text></g>
<g id="g-FEZ1"><use href="#hx" x="558" y="568" class="h yel"/><text x="558" y="572">FEZ1</text></g>
<g id="g-AP3M2"><use href="#hx" x="376" y="563" class="h red"/><text x="376" y="567">AP3M2</text></g>
<g id="g-ANO1"><use href="#hx" x="417" y="555" class="h red"/><text x="417" y="559">ANO1</text></g>
<g id="g-HAS2"><use href="#hx" x="478" y="569" class="h red"/><text x="478" y="573">HAS2</text></g>
<g id="g-WNT5A"><use href="#hx" x="338" y="573" class="h yel"/><text x="338" y="577">WNT5A</text></g>
<g id="g-NET1"><use href="#hx" x="398" y="592" class="h red"/><text x="398" y="596">NET1</text></g>
<g id="g-PGF"><use href="#hx" x="441" y="591" class="h red"/><text x="441" y="595">PGF</text></g>
<g id="g-NRP2"><use href="#hx" x="516" y="586" class="h yel"/><text x="516" y="590">NRP2</text></g>
<g id="g-PXDN"><use href="#hx" x="597" y="584" class="h red"/><text x="597" y="588">PXDN</text></g>
<g id="g-NRP1"><use href="#hx" x="475" y="608" class="h yel"/><text x="475" y="612">NRP1</text></g>
<g id="g-VIM"><use href="#hx" x="557" y="609" class="h yel"/><text x="557" y="613">VIM</text></g>
<g id="g-ALCAM"><use href="#hx" x="363" y="611" class="h yel"/><text x="363" y="615">ALCAM</text></g>
<g id="g-CALU"><use href="#hx" x="441" y="631" class="h red"/><text x="441" y="635">CALU</text></g>
<g id="g-SPRY2"><use href="#hx" x="513" y="626" class="h red"/><text x="513" y="630">SPRY2</text></g>
<g id="g-KRT7"><use href="#hx" x="396" y="637" class="h yel"/><text x="396" y="641">KRT7</text></g>
<g id="g-IER3"><use href="#hx" x="483" y="647" class="h red"/><text x="483" y="651">IER3</text></g>

<g id="kk-down"><circle cx="743" cy="987" r="19" fill="#fff" stroke="#cccccc"/><text x="743" y="991">KK_down</text></g>
<g id="g-MAP2"><use href="#hx" x="755" y="873" class="h red"/><text x="755" y="877">MAP2</text></g>
<g id="g-ARHGEF12"><use href="#hx" x="644" y="878" class="h red"/><text x="644" y="882">ARHGEF12</text></g>
<g id="g-SEMA4A"><use href="#hx" x="715" y="899" class="h red"/><text x="715" y="903">SEMA4A</text></g>
<g id="g-SPTBN2"><use href="#hx" x="675" y="909" class="h red"/><text x="675" y="913">SPTBN2</text></g>
<g id="g-EVPL"><use href="#hx" x="845" y="884" class="h yel"/><text x="845" y="888">EVPL</text></g>
<g id="g-KRT1"><use href="#hx" x="808" y="910" class="h yel"/><text x="808" y="914">KRT1</text></g>
<g id="g-IL1RN"><use href="#hx" x="770" y="919" class="h yel"/><text x="770" y="923">IL1RN</text></g>
<g id="g-SERPINB13"><use href="#hx" x="876" y="922" class="h red"/><text x="876" y="926">SERPINB13</text></g>
<g id="g-WNT3"><use href="#hx" x="594" y="923" class="h red"/><text x="594" y="927">WNT3</text></g>
<g id="g-MTSS1"><use href="#hx" x="636" y="921" class="h red"/><text x="636" y="925">MTSS1</text></g>
<g id="g-PKP1"><use href="#hx" x="700" y="944" class="h yel"/><text x="700" y="948">PKP1</text></g>
<g id="g-KRT16"><use href="#hx" x="663" y="951" class="h yel"/><text x="663" y="955">KRT16</text></g>
<g id="g-GJB6"><use href="#hx" x="613" y="960" class="h yel"/><text x="613" y="964">GJB6</text></g>
<g id="g-SULT2B1"><use href="#hx" x="796" y="956" class="h red"/><text x="796" y="960">SULT2B1</text></g>
<g id="g-WFDC5"><use href="#hx" x="839" y="944" class="h red"/><text x="839" y="948">WFDC5</text></g>
<g id="g-ZNF185"><use href="#hx" x="909" y="957" class="h red"/><text x="909" y="961">ZNF185</text></g>
<g id="g-RHBDL2"><use href="#hx" x="868" y="970" class="h red"/><text x="868" y="974">RHBDL2</text></g>
<g id="g-MALL"><use href="#hx" x="929" y="994" class="h red"/><text x="929" y="998">MALL</text></g>
<g id="g-BAMBI"><use href="#hx" x="693" y="986" class="h red"/><text x="693" y="990">BAMBI</text></g>
<g id="g-PLA2G4A"><use href="#hx" x="645" y="991" class="h red"/><text x="645" y="995">PLA2G4A</text></g>
<g id="g-IL17RE"><use href="#hx" x="598" y="1005" class="h yel"/><text x="598" y="1009">IL17RE</text></g>
<g id="g-JUP"><use href="#hx" x="825" y="988" class="h yel"/><text x="825" y="992">JUP</text></g>
<g id="g-DSC2"><use href="#hx" x="890" y="1004" class="h red"/><text x="890" y="1008">DSC2</text></g>
<g id="g-IGFL1"><use href="#hx" x="959" y="1021" class="h red"/><text x="959" y="1025">IGFL1</text></g>
<g id="g-KRT31"><use href="#hx" x="678" y="1022" class="h yel"/><text x="678" y="1026">KRT31</text></g>
<g id="g-TFAP2A"><use href="#hx" x="629" y="1032" class="h red"/><text x="629" y="1036">TFAP2A</text></g>
<g id="g-BLMH"><use href="#hx" x="759" y="1033" class="h yel"/><text x="759" y="1037">BLMH</text></g>
<g id="g-IMPA2"><use href="#hx" x="819" y="1025" class="h red"/><text x="819" y="1029">IMPA2</text></g>
<g id="g-GSR"><use href="#hx" x="855" y="1019" class="h red"/><text x="855" y="1023">GSR</text></g>
<g id="g-A2ML1"><use href="#hx" x="915" y="1033" class="h red"/><text x="915" y="1037">A2ML1</text></g>
<g id="g-CSTA"><use href="#hx" x="880" y="1049" class="h yel"/><text x="880" y="1053">CSTA</text></g>
<g id="g-SERPINB7"><use href="#hx" x="714" y="1050" class="h red"/><text x="714" y="1054">SERPINB7</text></g>
<g id="g-ARHGAP32"><use href="#hx" x="662" y="1060" class="h red"/><text x="662" y="1064">ARHGAP32</text></g>
<g id="g-DSC1"><use href="#hx" x="790" y="1055" class="h yel"/><text x="790" y="1059">DSC1</text></g>
<g id="g-ABCA12"><use href="#hx" x="843" y="1055" class="h yel"/><text x="843" y="1059">ABCA12</text></g>
<g id="g-SDCBP2"><use href="#hx" x="945" y="1061" class="h red"/><text x="945" y="1065">SDCBP2</text></g>
<g id="g-FLRT3"><use href="#hx" x="610" y="1077" class="h red"/><text x="610" y="1081">FLRT3</text></g>
<g id="g-RNF144B"><use href="#hx" x="756" y="1079" class="h red"/><text x="756" y="1083">RNF144B</text></g>
<g id="g-KLF4"><use href="#hx" x="817" y="1084" class="h yel"/><text x="817" y="1088">KLF4</text></g>
<g id="g-PIK3C2B"><use href="#hx" x="862" y="1095" class="h red"/><text x="862" y="1099">PIK3C2B</text></g>
<g id="g-TRIM29"><use href="#hx" x="907" y="1080" class="h red"/><text x="907" y="1084">TRIM29</text></g>
<g id="g-SERPINB2"><use href="#hx" x="692" y="1092" class="h red"/><text x="692" y="1096">SERPINB2</text></g>
<g id="g-ATP2B4"><use href="#hx" x="647" y="1103" class="h red"/><text x="647" y="1107">ATP2B4</text></g>
<g id="g-RAPGEFL1"><use href="#hx" x="734" y="1116" class="h red"/><text x="734" y="1120">RAPGEFL1</text></g>
<g id="g-LPHN1"><use href="#hx" x="784" y="1109" class="h red"/><text x="784" y="1113">LPHN1</text></g>
<g id="g-PRRG4"><use href="#hx" x="823" y="1120" class="h red"/><text x="823" y="1124">PRRG4</text></g>
<g id="g-CTSL2"><use href="#hx" x="890" y="1121" class="h red"/><text x="890" y="1125">CTSL2</text></g>
<g id="g-ID3"><use href="#hx" x="675" y="1130" class="h red"/><text x="675" y="1134">ID3</text></g>
<g id="g-CRYAB"><use href="#hx" x="768" y="1144" class="h red"/><text x="768" y="1148">CRYAB</text></g>
</g>
</svg>
